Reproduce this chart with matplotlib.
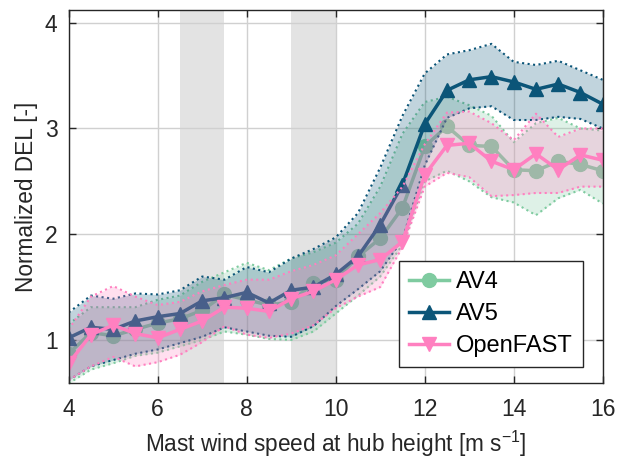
import numpy as np
import matplotlib
matplotlib.use("Agg")
import matplotlib.pyplot as plt

plt.rcParams['font.family'] = ['Liberation Sans', 'DejaVu Sans']
plt.rcParams['mathtext.fontset'] = 'custom'
plt.rcParams['mathtext.rm'] = 'Liberation Sans'
plt.rcParams['mathtext.default'] = 'regular'

wind = [4, 4.5, 5, 5.5, 6, 6.5, 7, 7.5, 8, 8.5, 9, 9.5, 10, 10.5, 11, 11.5,
        12, 12.5, 13, 13.5, 14, 14.5, 15, 15.5, 16]

av4_mean = [0.87, 1.07, 1.04, 1.10, 1.16, 1.20, 1.28, 1.43, 1.38, 1.33, 1.36, 1.54,
            1.57, 1.79, 1.96, 2.25, 2.83, 3.02, 2.84, 2.83, 2.61, 2.60, 2.69, 2.66, 2.60]
av4_upper = [1.15, 1.31, 1.31, 1.31, 1.38, 1.42, 1.55, 1.64, 1.73, 1.66, 1.77, 1.83,
             1.92, 2.10, 2.45, 2.95, 3.25, 3.30, 3.22, 3.12, 2.87, 3.05, 3.10, 3.00, 2.98]
av4_lower = [0.59, 0.72, 0.78, 0.85, 0.88, 0.94, 1.00, 1.08, 1.05, 1.01, 1.00, 1.08,
             1.25, 1.42, 1.60, 1.90, 2.50, 2.60, 2.50, 2.35, 2.30, 2.18, 2.34, 2.42, 2.29]

av5_mean = [1.02, 1.12, 1.10, 1.18, 1.22, 1.25, 1.37, 1.40, 1.45, 1.35, 1.47, 1.50,
            1.62, 1.79, 2.09, 2.47, 3.04, 3.36, 3.46, 3.49, 3.44, 3.37, 3.42, 3.34, 3.23]
av5_upper = [1.26, 1.42, 1.39, 1.44, 1.43, 1.47, 1.60, 1.57, 1.69, 1.64, 1.77, 1.86,
             1.97, 2.20, 2.63, 3.12, 3.52, 3.70, 3.74, 3.80, 3.63, 3.60, 3.64, 3.55, 3.46]
av5_lower = [0.62, 0.75, 0.81, 0.87, 0.91, 0.97, 1.03, 1.12, 1.08, 1.04, 1.03, 1.13,
             1.32, 1.48, 1.65, 1.95, 2.65, 3.10, 3.19, 3.21, 3.08, 3.08, 3.11, 3.09, 3.00]

of_mean = [0.78, 1.05, 1.14, 1.06, 1.02, 1.10, 1.18, 1.31, 1.30, 1.27, 1.39, 1.46,
           1.57, 1.71, 1.76, 1.93, 2.56, 2.84, 2.86, 2.69, 2.61, 2.76, 2.61, 2.75, 2.70]
of_upper = [1.10, 1.41, 1.51, 1.41, 1.33, 1.36, 1.46, 1.52, 1.57, 1.57, 1.65, 1.71,
            1.80, 2.00, 2.20, 2.45, 2.85, 3.15, 3.16, 3.05, 2.89, 3.14, 2.92, 3.00, 3.00]
of_lower = [0.62, 0.75, 0.84, 0.75, 0.79, 0.86, 0.98, 1.13, 1.05, 1.02, 1.06, 1.14,
            1.30, 1.41, 1.50, 1.88, 2.45, 2.58, 2.54, 2.36, 2.37, 2.39, 2.39, 2.45, 2.45]

shade_spans = [(6.5, 7.5), (9.0, 10.0)]

xticks = [4, 6, 8, 10, 12, 14, 16]
yticks = [1, 2, 3, 4]

c_av4 = '#7fcba0'
c_av5 = '#0b5578'
c_of = '#ff80c0'

fig = plt.figure(figsize=(6.19, 4.66), dpi=100)
ax = fig.add_axes([0.111, 0.1774, 0.8627, 0.8011])

for a, b in shade_spans:
    ax.axvspan(a, b, color='#e3e3e3', lw=0, zorder=0.5)

series = [
    ('AV4', av4_mean, av4_lower, av4_upper, c_av4, 'o'),
    ('AV5', av5_mean, av5_lower, av5_upper, c_av5, '^'),
    ('OpenFAST', of_mean, of_lower, of_upper, c_of, 'v'),
]
z = 2
for name, m, lo, hi, c, mk in series:
    ax.plot(wind, m, color=c, marker=mk, ms=10, lw=2.5, label=name, zorder=z)
    ax.fill_between(wind, lo, hi, color=c, alpha=0.25, lw=0, zorder=z + 0.1)
    ax.plot(wind, lo, color=c, ls=':', lw=1.5, zorder=z + 0.2)
    ax.plot(wind, hi, color=c, ls=':', lw=1.5, zorder=z + 0.2)
    z += 1

ax.set_xlim(4, 16)
ax.set_ylim(0.59, 4.12)
ax.set_xticks(xticks)
ax.set_yticks(yticks)
ax.grid(True, color='#d0d0d0', lw=1.0, zorder=1)
ax.set_axisbelow(True)
ax.tick_params(direction='in', top=True, right=True, labelsize=16.5, length=5,
               width=1.0, colors='#262626')
ax.tick_params(axis='x', pad=10.5)
ax.tick_params(axis='y', pad=8)
for s in ax.spines.values():
    s.set_color('#262626')
    s.set_linewidth(1.0)
    s.set_zorder(10)

ax.set_xlabel('Mast wind speed at hub height [m s$^{-1}$]', fontsize=16.3,
              color='#262626', labelpad=6)
ax.set_ylabel('Normalized DEL [-]', fontsize=16.3, color='#262626', labelpad=5)

leg = ax.legend(loc='lower right', fontsize=17, fancybox=False, framealpha=1,
                edgecolor='#262626', borderpad=0.42, handlelength=1.7,
                handletextpad=0.3, labelspacing=0.42, borderaxespad=0,
                bbox_to_anchor=(0.963, 0.044))
leg.get_frame().set_linewidth(1.0)
leg.set_zorder(20)

fig.savefig('out.png', dpi=100)
